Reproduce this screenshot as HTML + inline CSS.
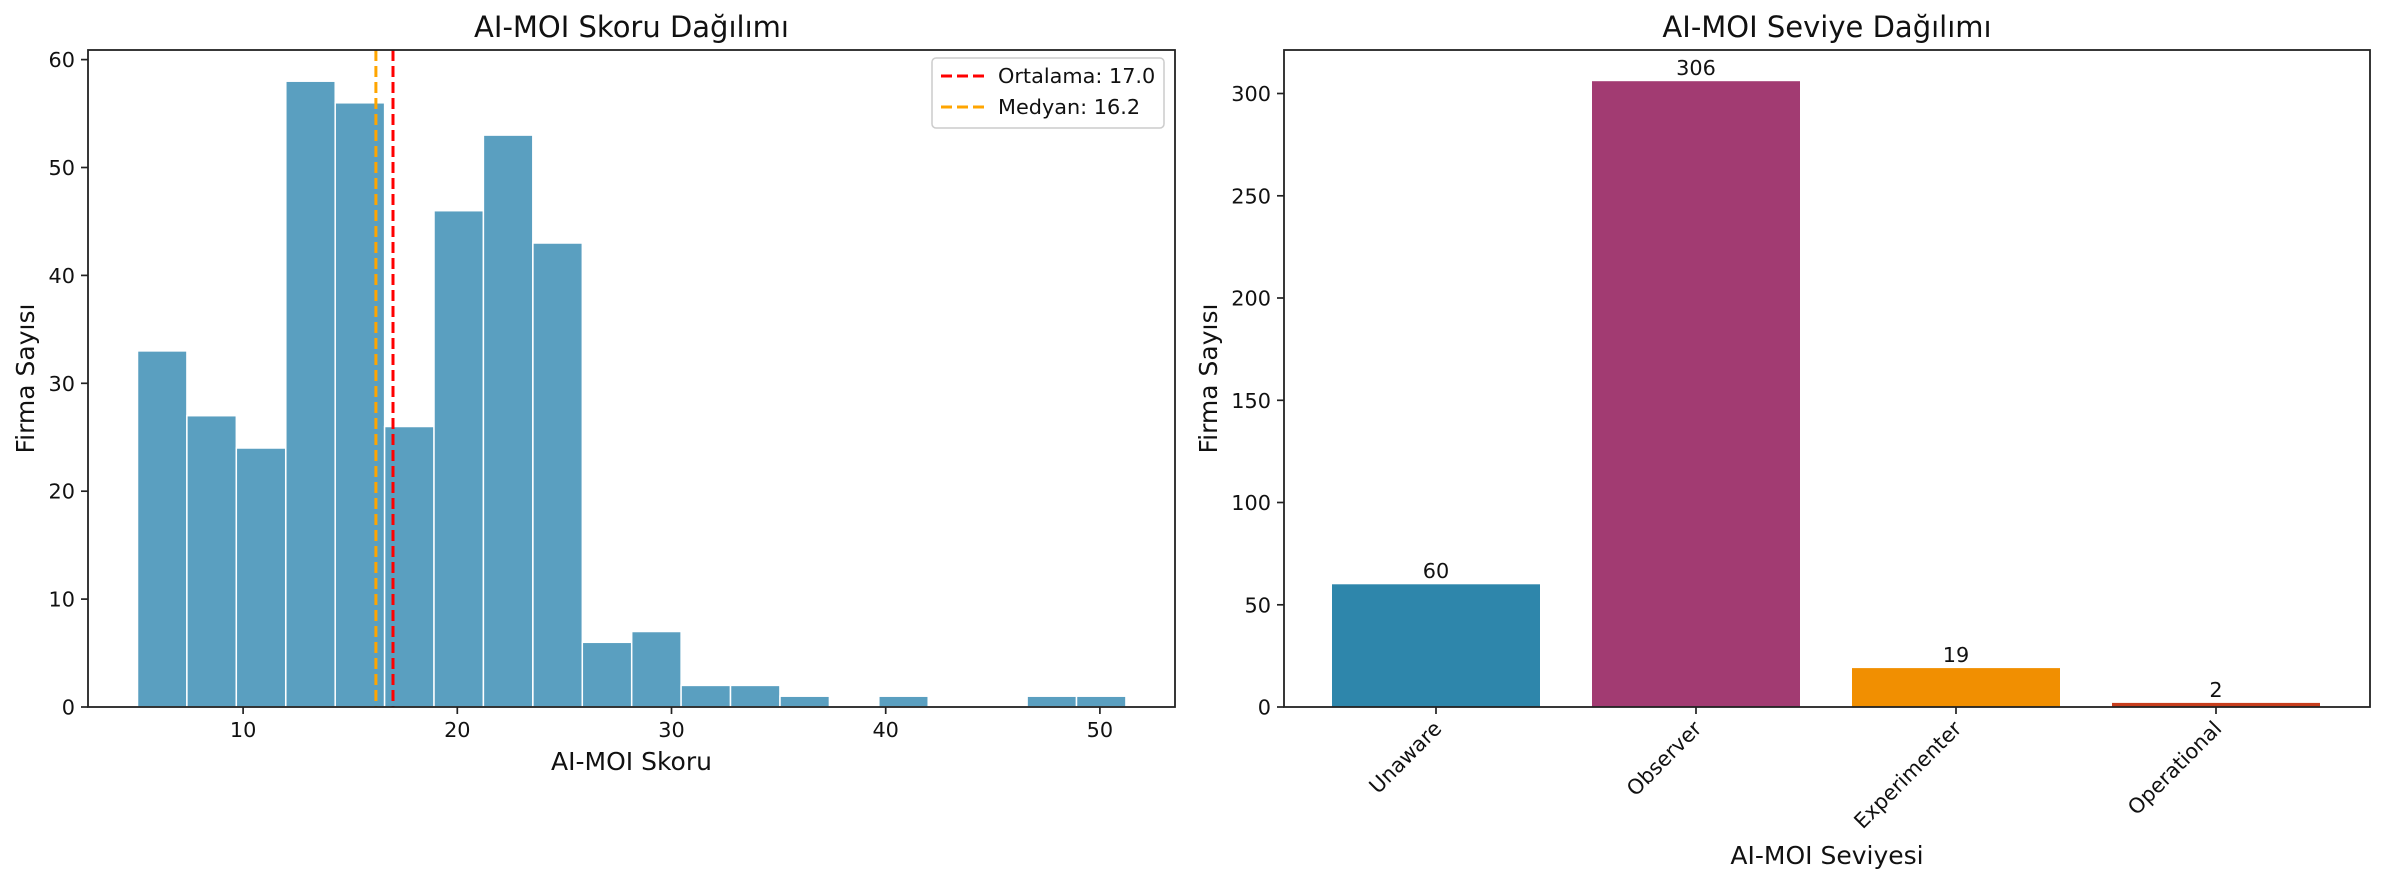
<!DOCTYPE html>
<html><head><meta charset="utf-8"><style>
html,body{margin:0;padding:0;background:#fff;}
svg{display:block;font-family:"DejaVu Sans","Liberation Sans",sans-serif;}
</style></head><body>
<svg width="2385" height="885" viewBox="0 0 2385 885" xmlns="http://www.w3.org/2000/svg">
<rect width="2385" height="885" fill="#fff"/>
<g fill="#5a9fc0" stroke="#fff" stroke-width="1.5">
<rect x="137.5" y="350.9" width="49.42" height="356.1"/>
<rect x="186.9" y="415.7" width="49.42" height="291.3"/>
<rect x="236.3" y="448.0" width="49.42" height="259.0"/>
<rect x="285.8" y="81.2" width="49.42" height="625.8"/>
<rect x="335.2" y="102.8" width="49.42" height="604.2"/>
<rect x="384.6" y="426.5" width="49.42" height="280.5"/>
<rect x="434.0" y="210.7" width="49.42" height="496.3"/>
<rect x="483.4" y="135.1" width="49.42" height="571.9"/>
<rect x="532.9" y="243.0" width="49.42" height="464.0"/>
<rect x="582.3" y="642.3" width="49.42" height="64.7"/>
<rect x="631.7" y="631.5" width="49.42" height="75.5"/>
<rect x="681.1" y="685.4" width="49.42" height="21.6"/>
<rect x="730.5" y="685.4" width="49.42" height="21.6"/>
<rect x="780.0" y="696.2" width="49.42" height="10.8"/>
<rect x="878.8" y="696.2" width="49.42" height="10.8"/>
<rect x="1027.1" y="696.2" width="49.42" height="10.8"/>
<rect x="1076.5" y="696.2" width="49.42" height="10.8"/>
</g>
<line x1="393" y1="50" x2="393" y2="707" stroke="red" stroke-width="3" stroke-dasharray="11,5"/>
<line x1="375.9" y1="50" x2="375.9" y2="707" stroke="orange" stroke-width="3" stroke-dasharray="11,5"/>
<rect x="88" y="50" width="1087" height="657" fill="none" stroke="#222" stroke-width="1.8"/>
<g stroke="#222" stroke-width="1.7">
<line x1="81" y1="707" x2="88" y2="707"/><line x1="81" y1="599.1" x2="88" y2="599.1"/>
<line x1="81" y1="491.2" x2="88" y2="491.2"/><line x1="81" y1="383.3" x2="88" y2="383.3"/>
<line x1="81" y1="275.4" x2="88" y2="275.4"/><line x1="81" y1="167.5" x2="88" y2="167.5"/>
<line x1="81" y1="59.6" x2="88" y2="59.6"/>
<line x1="243.1" y1="707" x2="243.1" y2="714"/><line x1="457.3" y1="707" x2="457.3" y2="714"/>
<line x1="671.5" y1="707" x2="671.5" y2="714"/><line x1="885.7" y1="707" x2="885.7" y2="714"/>
<line x1="1099.9" y1="707" x2="1099.9" y2="714"/>
</g>
<g font-size="20.8" fill="#111" text-anchor="end">
<text x="75" y="714.5">0</text><text x="75" y="606.6">10</text><text x="75" y="498.7">20</text>
<text x="75" y="390.8">30</text><text x="75" y="282.9">40</text><text x="75" y="175">50</text>
<text x="75" y="67.1">60</text>
</g>
<g font-size="20.8" fill="#111" text-anchor="middle">
<text x="243.1" y="737">10</text><text x="457.3" y="737">20</text><text x="671.5" y="737">30</text>
<text x="885.7" y="737">40</text><text x="1099.9" y="737">50</text>
</g>
<text x="631.5" y="770" font-size="25" text-anchor="middle" fill="#111">AI-MOI Skoru</text>
<text transform="translate(34,378.5) rotate(-90)" font-size="25" text-anchor="middle" fill="#111">Firma Sayısı</text>
<text x="631.5" y="37" font-size="29" text-anchor="middle" fill="#111">AI-MOI Skoru Dağılımı</text>
<rect x="932" y="58" width="232" height="70" rx="4" fill="#fff" stroke="#ccc" stroke-width="1.5"/>
<line x1="941" y1="76" x2="984" y2="76" stroke="red" stroke-width="3" stroke-dasharray="11,5"/>
<line x1="941" y1="107" x2="984" y2="107" stroke="orange" stroke-width="3" stroke-dasharray="11,5"/>
<text x="998" y="83" font-size="20.8" fill="#111">Ortalama: 17.0</text>
<text x="998" y="114" font-size="20.8" fill="#111">Medyan: 16.2</text>

<rect x="1332" y="584.3" width="208" height="122.7" fill="#2E86AB"/>
<rect x="1592" y="81.2" width="208" height="625.8" fill="#A23B72"/>
<rect x="1852" y="668.1" width="208" height="38.9" fill="#F18F01"/>
<rect x="2112" y="702.9" width="208" height="4.1" fill="#C73E1D"/>
<g font-size="20.8" fill="#111" text-anchor="middle">
<text x="1436" y="578">60</text><text x="1696" y="75">306</text>
<text x="1956" y="662">19</text><text x="2216" y="697">2</text>
</g>
<rect x="1284" y="50" width="1086" height="657" fill="none" stroke="#222" stroke-width="1.8"/>
<g stroke="#222" stroke-width="1.7">
<line x1="1277" y1="707" x2="1284" y2="707"/><line x1="1277" y1="604.8" x2="1284" y2="604.8"/>
<line x1="1277" y1="502.5" x2="1284" y2="502.5"/><line x1="1277" y1="400.3" x2="1284" y2="400.3"/>
<line x1="1277" y1="298" x2="1284" y2="298"/><line x1="1277" y1="195.8" x2="1284" y2="195.8"/>
<line x1="1277" y1="93.5" x2="1284" y2="93.5"/>
<line x1="1436" y1="707" x2="1436" y2="714"/><line x1="1696" y1="707" x2="1696" y2="714"/>
<line x1="1956" y1="707" x2="1956" y2="714"/><line x1="2216" y1="707" x2="2216" y2="714"/>
</g>
<g font-size="20.8" fill="#111" text-anchor="end">
<text x="1271" y="714.5">0</text><text x="1271" y="612.3">50</text><text x="1271" y="510">100</text>
<text x="1271" y="407.8">150</text><text x="1271" y="305.5">200</text><text x="1271" y="203.3">250</text>
<text x="1271" y="101">300</text>
</g>
<g font-size="20.8" fill="#111" text-anchor="end">
<text transform="translate(1440,727) rotate(-45)" dy="4">Unaware</text>
<text transform="translate(1700,727) rotate(-45)" dy="4">Observer</text>
<text transform="translate(1960,727) rotate(-45)" dy="4">Experimenter</text>
<text transform="translate(2220,727) rotate(-45)" dy="4">Operational</text>
</g>
<text x="1827" y="864" font-size="25" text-anchor="middle" fill="#111">AI-MOI Seviyesi</text>
<text transform="translate(1217,378.5) rotate(-90)" font-size="25" text-anchor="middle" fill="#111">Firma Sayısı</text>
<text x="1827" y="37" font-size="29" text-anchor="middle" fill="#111">AI-MOI Seviye Dağılımı</text>
</svg>
</body></html>
